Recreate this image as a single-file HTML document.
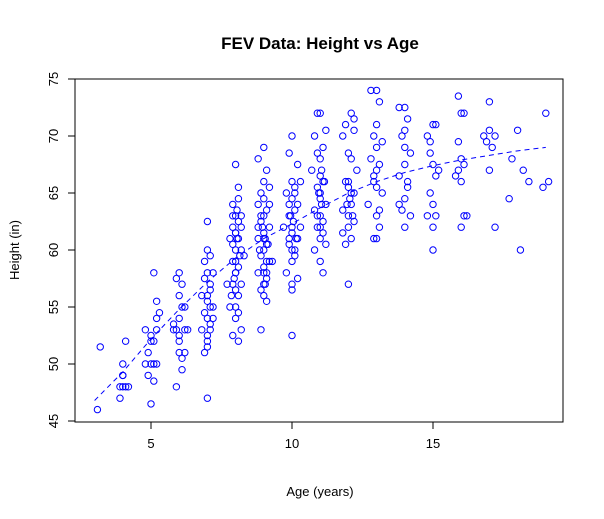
<!DOCTYPE html>
<html><head><meta charset="utf-8"><style>
body{margin:0;background:#fff;}
svg{display:block;font-family:"Liberation Sans",Arial,sans-serif;}
</style></head><body>
<svg id="chart" width="604" height="519">
<rect width="604" height="519" fill="#fff"/>
<text x="320" y="49" text-anchor="middle" font-size="17" font-weight="bold">FEV Data: Height vs Age</text>
<text x="320" y="496" text-anchor="middle" font-size="13">Age (years)</text>
<text transform="translate(19,250) rotate(-90)" text-anchor="middle" font-size="13">Height (in)</text>
<rect x="75" y="79" width="488" height="343" fill="none" stroke="#000"/>
<g id="axes"></g>
<g id="points"></g>
<g id="trend"></g>
</svg>
<script>
const xTicks=[5,10,15];
const yTicks=[45,50,55,60,65,70,75];
const ages=[3.1,3.2,4.0,4.1,3.9,4.0,4.0,4.1,3.9,4.0,4.2,
4.8,5.0,5.1,4.9,5.0,5.1,5.2,5.2,5.1,5.0,5.2,4.9,5.2,5.3,4.8,5.0,5.1,
5.8,5.9,6.0,6.1,6.0,5.9,6.0,6.1,6.2,6.0,6.1,5.9,6.0,6.2,6.1,6.0,5.8,6.2,6.3,
7.0,7.0,6.9,7.0,7.1,7.0,6.9,7.1,7.0,6.8,7.1,7.0,7.2,6.9,7.0,7.1,7.0,7.2,6.8,7.0,7.1,7.2,6.9,7.0,7.1,
8.0,8.1,7.9,8.0,8.2,7.9,8.0,8.1,7.8,8.0,8.2,8.0,7.9,8.1,8.0,8.2,7.9,8.0,8.1,8.0,7.8,8.1,8.0,8.2,7.9,8.1,7.7,8.3,8.0,8.2,7.9,8.1,
9.0,8.8,9.1,9.0,8.9,9.2,9.0,8.8,9.1,9.0,8.9,9.2,9.0,8.8,9.1,9.0,8.9,9.2,9.0,8.8,9.1,9.0,8.9,9.0,9.1,8.9,9.2,8.8,9.3,9.0,9.1,
10.0,9.9,10.2,10.0,10.1,9.8,10.0,10.2,9.9,10.0,10.3,10.0,9.9,10.1,10.0,9.8,10.0,10.2,10.0,9.9,10.1,10.0,10.3,9.7,10.1,10.2,
11.0,10.9,11.2,10.8,11.1,11.0,10.7,11.0,11.1,10.9,11.0,11.2,10.8,11.0,11.1,10.9,11.0,11.2,10.8,11.0,11.1,10.9,11.0,11.1,
11.9,12.1,12.2,11.8,12.0,12.1,12.3,11.9,12.0,12.2,12.1,11.8,12.0,12.2,12.0,12.1,11.9,12.0,12.2,12.1,11.8,
12.8,13.0,13.1,13.0,12.9,13.2,13.0,12.8,13.1,13.0,12.9,13.0,13.2,12.7,13.0,13.1,12.9,13.0,13.1,12.9,
13.8,14.0,14.1,13.9,14.0,14.2,14.0,13.8,14.1,14.0,13.9,14.2,14.0,13.8,14.1,14.0,
14.8,15.0,15.1,14.9,15.0,15.2,14.9,15.0,15.1,14.8,15.0,15.0,15.1,14.9,
15.9,16.0,16.1,15.9,16.0,16.1,15.8,16.0,16.1,16.2,16.0,15.9,
16.8,17.0,17.2,17.0,16.9,17.1,17.0,17.2,
17.8,18.0,18.1,18.2,18.4,17.7,
19.0,19.1,18.9,
7.9,8.05,8.15,8.0,7.95,8.1,8.05,7.85,
8.95,9.05,8.85,9.15,9.0,9.1,8.9,9.05,
9.95,10.05,10.15,9.9,10.0,10.1,
10.95,11.05,11.15,10.9,11.0,11.05,
12.05,11.95,12.15,12.0];
const heights=[46,51.5,48,48,48,49,50,52,47,49,48,
53,52,52,51,50,50,55.5,54,58,46.5,50,49,53,54.5,50,52.5,48.5,
53,53,56,55,54,57.5,58,57,53,51,50.5,48,52,55,49.5,52.5,53.5,51,53,
62.5,47,51,52,53,54,54.5,55,56,56,57,58,58,59,60,56.5,55.5,54,53,51.5,53.5,55,57.5,52.5,59.5,
67.5,64.5,64,63,63,62,61.5,61,61,60,60,59,59,58.5,58,57,57,56.5,56,55,55,54.5,54,53,52.5,52,57,59.5,61.5,62,63,65.5,
69,68,67,66,65,65.5,64.5,64,63.5,63,62.5,62,61.5,61,60.5,60,59.5,59,58.5,58,57.5,57,56.5,56,55.5,53,64,62,59,61,58,
70,68.5,67.5,66,65,65,64.5,64,63,62,62,61.5,61,60,59,58,57,57.5,56.5,60.5,63.5,52.5,66,62,59.5,61,
72,72,70.5,70,69,68,67,66.5,66,65.5,65,64,63.5,63,62.5,62,61,60.5,60,59,58,68.5,64.5,61.5,
71,72,71.5,70,68.5,68,67,66,65.5,65,64,63.5,63,62.5,62,61,60.5,57,70.5,65,61.5,
74,74,73,71,70,69.5,69,68,67.5,67,66,65.5,65,64,63,62,61,61,63.5,66.5,
72.5,72.5,71.5,70,69,68.5,67.5,66.5,66,64.5,63.5,63,62,64,65.5,70.5,
70,71,71,68.5,67.5,67,65,64,63,63,62,60,66.5,69.5,
73.5,72,72,69.5,68,67.5,66.5,66,63,63,62,67,
70,70.5,70,73,69.5,69,67,62,
68,70.5,60,67,66,64.5,
72,66,65.5,
60.5,61,59.5,58,57.5,62.5,63.5,56,
62,61,60,60.5,58,59,63,57,
63,62.5,61,64,60,65.5,
65,64,66,63,62,67,
64.5,64,63,66];
const trendAges=[3,4,5,6,7,8,9,10,11,12,13,14,15,16,17,18,19];
const trendHeights=[46.8,49.3,52.2,54.8,57.2,59.3,61.0,62.3,63.7,65.0,66.0,66.8,67.4,67.9,68.3,68.7,69.0];

const NS='http://www.w3.org/2000/svg';
function xs(a){return 151+(a-5)*28.2;}
function ys(h){return 364-(h-50)*11.4;}
const axes=document.getElementById('axes');
function mk(tag,attrs,parent){const e=document.createElementNS(NS,tag);for(const k in attrs)e.setAttribute(k,attrs[k]);parent.appendChild(e);return e;}
mk('line',{x1:xs(5),x2:xs(15),y1:422,y2:422,stroke:'#000'},axes);
xTicks.forEach(t=>{
  const l=mk('line',{x1:xs(t),x2:xs(t),y1:422,y2:429,stroke:'#000'},axes);
  
  
  const tx=mk('text',{x:xs(t),y:448,'text-anchor':'middle','font-size':13},axes);
  tx.textContent=t;
  
  
});
mk('line',{x1:75,x2:75,y1:ys(45),y2:ys(75),stroke:'#000'},axes);
yTicks.forEach(t=>{
  const l=mk('line',{x1:68,x2:75,y1:ys(t),y2:ys(t),stroke:'#000'},axes);
  
  
  const tx=mk('text',{'text-anchor':'middle','font-size':13,transform:'translate(58,'+ys(t)+') rotate(-90)'},axes);
  tx.textContent=t;
  
  
});
const pts=document.getElementById('points');
for(let i=0;i<ages.length;i++){
  const c=mk('circle',{cx:xs(ages[i]),cy:ys(heights[i]),r:3.2,fill:'none',stroke:'#0000ff','stroke-width':1},pts);
  
  
}
const tr=document.getElementById('trend');
const p=mk('polyline',{points:trendAges.map((a,i)=>xs(a)+','+ys(trendHeights[i])).join(' '),fill:'none',stroke:'#0000ff','stroke-width':1,'stroke-dasharray':'5,4'},tr);


</script>
</body></html>
